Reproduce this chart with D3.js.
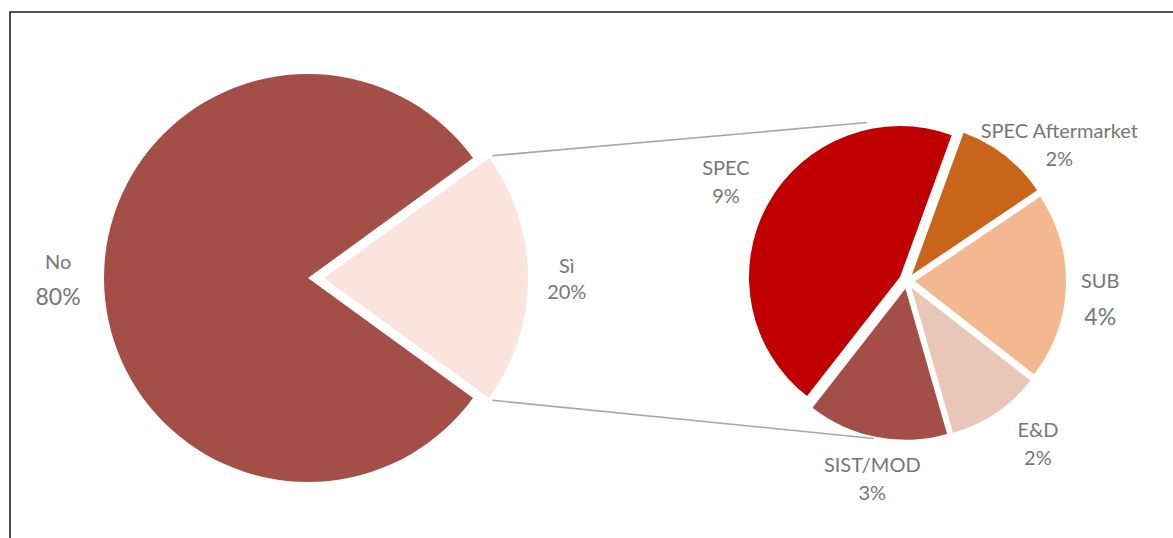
<!DOCTYPE html>
<html>
<head>
<meta charset="utf-8">
<script src="https://cdn.jsdelivr.net/npm/d3@7"></script>
<style>
  html, body { margin: 0; padding: 0; background: #fff; }
  svg { display: block; }
  text { font-family: Lato, "Noto Sans", sans-serif; fill: #767676; }
</style>
</head>
<body>
<svg id="chart" width="1173" height="538"></svg>
<script>
// Main split: answer to the question
const mainCategories = ["No", "Sì"];
const mainValues = [80, 20];

// Breakdown of the "Sì" share
const subCategories = ["SPEC", "SPEC Aftermarket", "SUB", "E&D", "SIST/MOD"];
const subValues = [9, 2, 4, 2, 3];

const mainColors = ["#a34f48", "#fae4dd"];
const subColors = ["#c00000", "#c9651b", "#f4b890", "#e8c6b8", "#a34f48"];

const deg = Math.PI / 180;
const svg = d3.select("#chart");
const W = 1173, H = 538;

// frame
svg.append("path")
  .attr("d", `M10,${H + 2} L10,12 L${W + 2},12`)
  .attr("fill", "none")
  .attr("stroke", "#222")
  .attr("stroke-width", 1.6);

const unit = a => [Math.sin(a), -Math.cos(a)];

// ---- main pie ----
const mainCx = 308, mainCy = 278, mainR = 204, mainExplode = 16;
const mainTotal = d3.sum(mainValues);
const siAngle = 2 * Math.PI * mainValues[1] / mainTotal;
const mainStart = Math.PI / 2 + siAngle / 2;   // "Sì" centred on the right
const mainPie = d3.pie().sort(null).value(d => d)
  .startAngle(mainStart).endAngle(mainStart + 2 * Math.PI);
const mainArcs = mainPie(mainValues);
const mainArc = d3.arc().innerRadius(0).outerRadius(mainR);

const mainG = svg.append("g");
mainArcs.forEach((a, i) => {
  const mid = (a.startAngle + a.endAngle) / 2;
  const off = i === 1 ? mainExplode : 0;
  const [ux, uy] = unit(mid);
  mainG.append("path")
    .attr("d", mainArc(a))
    .attr("transform", `translate(${mainCx + ux * off},${mainCy + uy * off})`)
    .attr("fill", mainColors[i]);
});

// ---- secondary pie ----
const subCx = 907, subCy = 281, subR = 151, subExplode = 8;
const subStart = -142 * deg;
const subPie = d3.pie().sort(null).value(d => d)
  .startAngle(subStart).endAngle(subStart + 2 * Math.PI);
const subArcs = subPie(subValues);
const subArc = d3.arc().innerRadius(0).outerRadius(subR);
const subCenters = subArcs.map(a => {
  const [ux, uy] = unit((a.startAngle + a.endAngle) / 2);
  return [subCx + ux * subExplode, subCy + uy * subExplode];
});

// connector lines from the exploded "Sì" slice to the secondary pie
const si = mainArcs[1];
const [sux, suy] = unit((si.startAngle + si.endAngle) / 2);
const siCx = mainCx + sux * mainExplode, siCy = mainCy + suy * mainExplode;
const pt = (cx, cy, r, a) => { const [ux, uy] = unit(a); return [cx + ux * r, cy + uy * r]; };
const p1 = pt(siCx, siCy, mainR + 4, si.startAngle);
const p2 = pt(siCx, siCy, mainR + 4, si.endAngle);
const q1 = pt(subCenters[0][0], subCenters[0][1], subR + 7, -12 * deg);
const q2 = pt(subCenters[4][0], subCenters[4][1], subR + 2, 192 * deg);
[[p1, q1], [p2, q2]].forEach(([a, b]) => {
  svg.append("line")
    .attr("x1", a[0]).attr("y1", a[1])
    .attr("x2", b[0]).attr("y2", b[1])
    .attr("stroke", "#a6a6a6")
    .attr("stroke-width", 1.6);
});

const subG = svg.append("g");
subArcs.forEach((a, i) => {
  subG.append("path")
    .attr("d", subArc(a))
    .attr("transform", `translate(${subCenters[i][0]},${subCenters[i][1]})`)
    .attr("fill", subColors[i]);
});

// ---- labels ----
function label(x, y, name, value, nameSize, valueSize, gapUp, gapDown) {
  const g = svg.append("g").attr("text-anchor", "middle");
  g.append("text").attr("x", x).attr("y", y - gapUp)
    .attr("dominant-baseline", "central")
    .style("font-size", nameSize + "px").text(name);
  g.append("text").attr("x", x).attr("y", y + gapDown)
    .attr("dominant-baseline", "central")
    .style("font-size", valueSize + "px").text(value + "%");
}

// main labels sit outside each slice along its bisector
const mainLabelStyle = [
  { r: 1.225, nameSize: 20, valueSize: 23, up: 17, down: 18 },
  { r: 1.19, nameSize: 20, valueSize: 20, up: 13, down: 13 }
];
mainArcs.forEach((a, i) => {
  const s = mainLabelStyle[i];
  const mid = (a.startAngle + a.endAngle) / 2;
  const cx = i === 1 ? siCx : mainCx, cy = i === 1 ? siCy : mainCy;
  const [x, y] = pt(cx, cy, mainR * s.r, mid);
  label(x, y, mainCategories[i], mainValues[i], s.nameSize, s.valueSize, s.up, s.down);
});

// secondary labels: angle tweak (deg) and radius
const subLabelStyle = [
  { da: 0, r: 207, big: false },
  { da: 10, r: 205, big: false },
  { da: 3, r: 194, big: true },
  { da: -5, r: 208, big: false },
  { da: -1, r: 200, big: false }
];
subArcs.forEach((a, i) => {
  const s = subLabelStyle[i];
  const mid = (a.startAngle + a.endAngle) / 2 + s.da * deg;
  const [x, y] = pt(subCx, subCy, s.r, mid);
  if (s.big) label(x, y, subCategories[i], subValues[i], 20, 23, 18, 18);
  else label(x, y, subCategories[i], subValues[i], 20, 20, 14, 14);
});
</script>
</body>
</html>
